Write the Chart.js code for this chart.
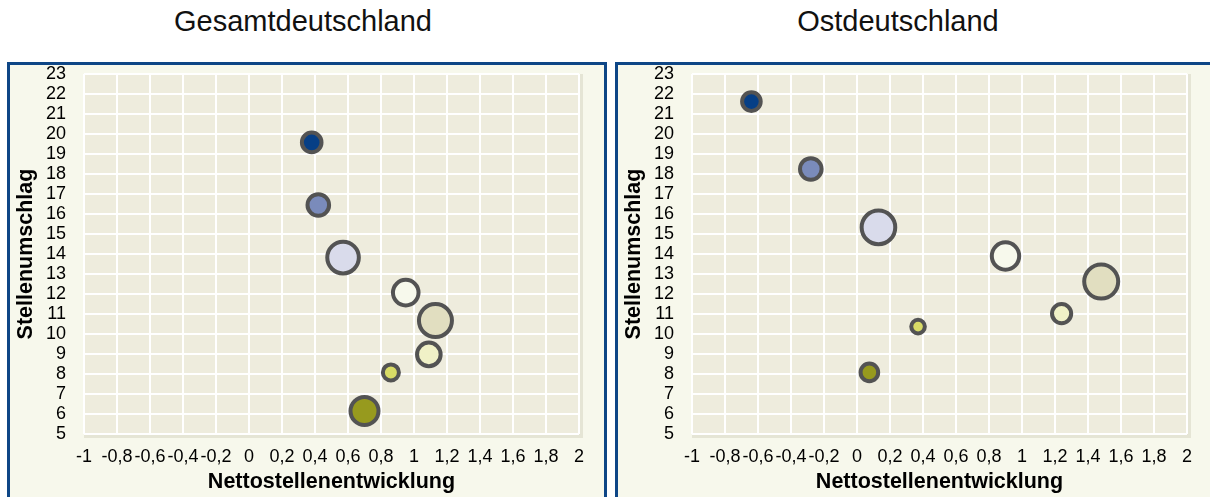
<!DOCTYPE html>
<html lang="de">
<head>
<meta charset="utf-8">
<script src="https://cdn.jsdelivr.net/npm/chart.js@4.4.1/dist/chart.umd.min.js"></script>
<style>
  body { margin: 0; background: #fff; width: 1210px; height: 497px; overflow: hidden; position: relative;
         font-family: "Liberation Sans", Arial, sans-serif; }
  .titel { position: absolute; top: 5px; width: 400px; font-size: 29px; line-height: 32px; color: #111; text-align: center; }
  .panel { position: absolute; top: 62px; width: 594px; height: 440px; border: 3px solid #0e4686; background: #f7f8ec; }
  .panel canvas { position: absolute; left: 0; top: 0; }
</style>
</head>
<body>
<div class="titel" style="left:103px">Gesamtdeutschland</div>
<div class="titel" style="left:698px">Ostdeutschland</div>
<div class="panel" style="left:7px"><canvas id="chartGesamt" width="594" height="432"></canvas></div>
<div class="panel" style="left:615px"><canvas id="chartOst" width="594" height="432"></canvas></div>
<script>
// Gesamtdeutschland: Nettostellenentwicklung (x), Stellenumschlag (y), Blasengroesse
const gesamtX = [0.38, 0.42, 0.57, 0.95, 1.13, 1.09, 0.86, 0.70];
const gesamtY = [19.58, 16.45, 13.82, 12.07, 10.67, 8.98, 8.08, 6.15];
const gesamtGroesse = [9.8, 10.8, 15.8, 12.8, 16.5, 11.8, 8, 14];

// Ostdeutschland
const ostX = [-0.64, -0.28, 0.13, 0.90, 1.48, 1.24, 0.37, 0.075];
const ostY = [21.62, 18.25, 15.33, 13.9, 12.62, 11.02, 10.37, 8.08];
const ostGroesse = [9.3, 10.8, 16.8, 13.7, 17, 9.6, 6.8, 8.8];

// Achsen
const xMin = -1, xMax = 2, xSchritt = 0.2;
const yMin = 5, yMax = 23, ySchritt = 1;

// Farben der Blasen (gleiche Reihenfolge in beiden Diagrammen)
const farben = ['#063f86', '#7a8bbb', '#d9dbeb', '#f7f9ec', '#e1dec0', '#f0f1c7', '#d8db66', '#979a1e'];

const schrift = '"Liberation Sans", Arial, sans-serif';

// Hintergrund der Zeichenflaeche mit leichtem Schatten rechts/unten
const plotHintergrund = {
    id: 'plotHintergrund',
    beforeDraw(chart) {
        const { ctx, chartArea: a } = chart;
        ctx.save();
        ctx.fillStyle = '#e5e5d5';
        ctx.fillRect(a.left, a.top, a.width + 4, a.height + 4);
        ctx.fillStyle = '#eeecdd';
        ctx.fillRect(a.left, a.top, a.width, a.height);
        ctx.restore();
    }
};

function punkte(xs, ys, rs) {
    return xs.map((x, i) => ({ x: x, y: ys[i], r: rs[i] }));
}

function zahlDeutsch(v) {
    const w = Math.round(v * 10) / 10;
    return String(w).replace('.', ',');
}

function zeichneBlasen(id, xs, ys, rs) {
    const ctx = document.getElementById(id).getContext('2d');
    return new Chart(ctx, {
        type: 'bubble',
        data: {
            datasets: [{
                data: punkte(xs, ys, rs),
                backgroundColor: farben,
                borderColor: '#535353',
                borderWidth: 4,
                hoverRadius: 0
            }]
        },
        options: {
            responsive: false,
            devicePixelRatio: 1,
            animation: false,
            events: [],
            layout: { autoPadding: false, padding: { top: 9, right: 25, left: 0, bottom: 0 } },
            plugins: {
                legend: { display: false },
                tooltip: { enabled: false }
            },
            scales: {
                x: {
                    type: 'linear',
                    min: xMin,
                    max: xMax,
                    grid: { color: '#ffffff', lineWidth: 2, drawTicks: false },
                    border: { display: false },
                    ticks: {
                        stepSize: xSchritt,
                        autoSkip: false,
                        maxRotation: 0,
                        padding: 12,
                        color: '#000',
                        font: { family: schrift, size: 18 },
                        callback: v => zahlDeutsch(v)
                    },
                    title: {
                        display: true,
                        text: 'Nettostellenentwicklung',
                        color: '#000',
                        font: { family: schrift, size: 21.5, weight: 'bold' },
                        padding: { top: 0, bottom: 2 }
                    },
                    afterFit: s => { s.height = 63; s.paddingLeft = 0; s.paddingRight = 0; }
                },
                y: {
                    type: 'linear',
                    min: yMin,
                    max: yMax,
                    grid: { color: '#ffffff', lineWidth: 2, drawTicks: false },
                    border: { display: false },
                    ticks: {
                        stepSize: ySchritt,
                        autoSkip: false,
                        padding: 18,
                        color: '#000',
                        font: { family: schrift, size: 18 }
                    },
                    title: {
                        display: true,
                        text: 'Stellenumschlag',
                        color: '#000',
                        font: { family: schrift, size: 21.5, weight: 'bold' },
                        padding: { top: 3, bottom: 0 }
                    },
                    afterFit: s => { s.width = 74; s.paddingTop = 0; s.paddingBottom = 0; }
                }
            }
        },
        plugins: [plotHintergrund]
    });
}

zeichneBlasen('chartGesamt', gesamtX, gesamtY, gesamtGroesse);
zeichneBlasen('chartOst', ostX, ostY, ostGroesse);
</script>
</body>
</html>
